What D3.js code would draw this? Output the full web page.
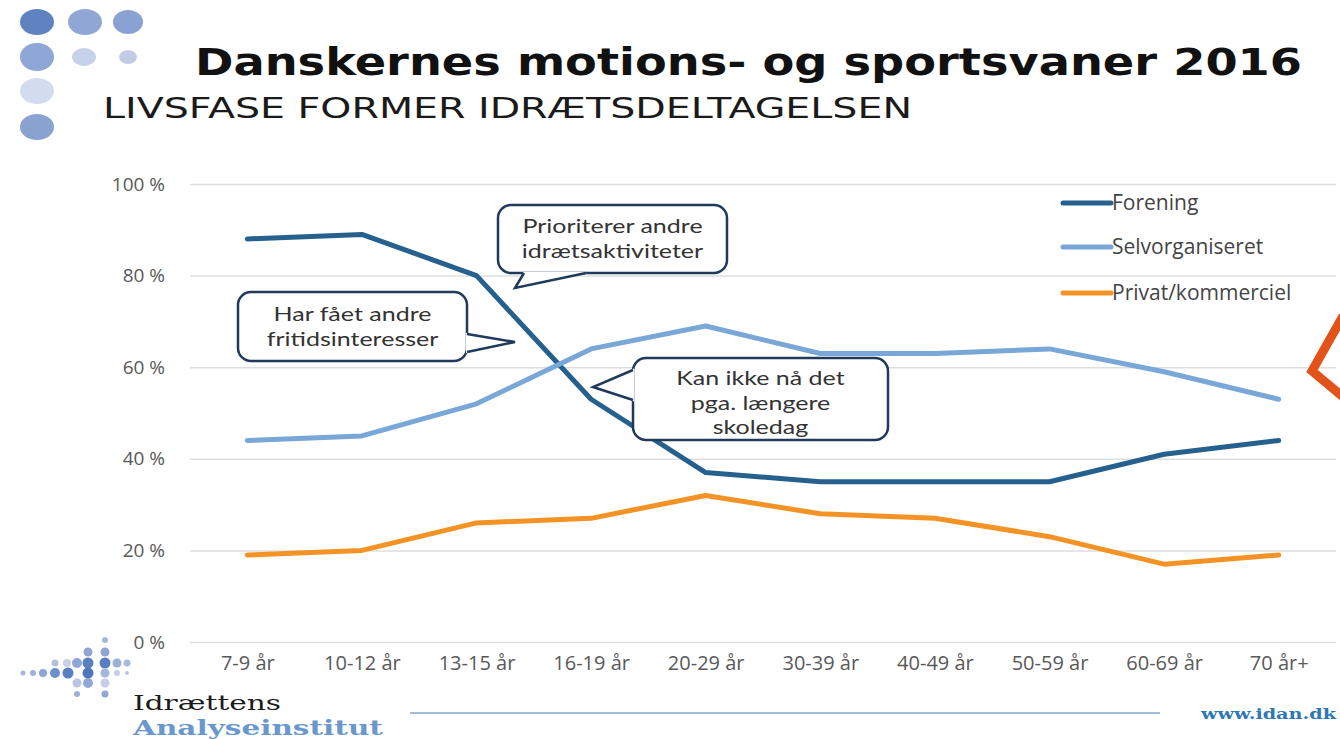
<!DOCTYPE html>
<html>
<head>
<meta charset="utf-8">
<script src="https://cdn.jsdelivr.net/npm/d3@7"></script>
<style>
  body { margin: 0; background: #fff; }
  #chart { width: 1340px; height: 739px; }
</style>
</head>
<body>
<div id="chart"></div>
<script>
//Datos
const categories = ['7-9 år', '10-12 år', '13-15 år', '16-19 år', '20-29 år', '30-39 år', '40-49 år', '50-59 år', '60-69 år', '70 år+'];
const forening = [88, 89, 80, 53, 37, 35, 35, 35, 41, 44];
const selvorganiseret = [44, 45, 52, 64, 69, 63, 63, 64, 59, 53];
const privat = [19, 20, 26, 27, 32, 28, 27, 23, 17, 19];
const seriesNames = ['Forening', 'Selvorganiseret', 'Privat/kommerciel'];
const yTicks = [0, 20, 40, 60, 80, 100];

//Colores fijos
const COLOR_FORENING = '#25608e',
COLOR_SELV = '#79a7d7',
COLOR_PRIVAT = '#f39326',
COLOR_GRID = '#dedede',
COLOR_TEXT = '#595959',
COLOR_BOX = '#1f3a5a',
FONT = 'Open Sans, Lato, sans-serif';

const series = [
    { name: seriesNames[0], values: forening, color: COLOR_FORENING },
    { name: seriesNames[1], values: selvorganiseret, color: COLOR_SELV },
    { name: seriesNames[2], values: privat, color: COLOR_PRIVAT }
];

let svg = d3.select('#chart')
    .append('svg')
    .attr('width', 1340)
    .attr('height', 739);

//Logo superior
const topDots = [
    [37, 22, 17, 13, '#5f82c0'], [85, 22, 17, 13, '#90a7d5'], [128, 22, 15, 12, '#8aa2d2'],
    [37, 57, 17, 14, '#8ea7d6'], [84, 57, 12, 9, '#c6d1ea'], [128, 57, 9, 7, '#c1cce6'],
    [37, 91, 17, 13, '#d3dbee'], [37, 127, 17, 13, '#8aa2d0']
];
svg.selectAll('.topdot')
    .data(topDots)
    .enter()
    .append('ellipse')
    .attr('cx', d => d[0]).attr('cy', d => d[1])
    .attr('rx', d => d[2]).attr('ry', d => d[3])
    .attr('fill', d => d[4]);

//Títulos
svg.append('text')
    .attr('x', 195).attr('y', 75)
    .attr('textLength', 1107).attr('lengthAdjust', 'spacingAndGlyphs')
    .style('font-family', 'DejaVu Sans').style('font-weight', 'bold')
    .style('font-size', '37px').style('fill', '#111')
    .text('Danskernes motions- og sportsvaner 2016');

svg.append('text')
    .attr('x', 103).attr('y', 118)
    .attr('textLength', 809).attr('lengthAdjust', 'spacingAndGlyphs')
    .style('font-family', 'DejaVu Sans')
    .style('font-size', '28px').style('fill', '#1a1a1a')
    .text('LIVSFASE FORMER IDRÆTSDELTAGELSEN');

//Escalas
let x = d3.scalePoint()
    .domain(categories)
    .range([190, 1336])
    .padding(0.5);

let y = d3.scaleLinear()
    .domain([0, 100])
    .range([642, 184]);

//Eje Y con líneas de rejilla
let yAxis = function(g) {
    g.call(d3.axisLeft(y).tickValues(yTicks).tickSize(0).tickPadding(25).tickFormat(d => d + ' %'));
    g.call(g => g.select('.domain').remove());
    g.call(g => g.selectAll('.tick line')
        .attr('x1', 0)
        .attr('x2', 1336 - 190)
        .attr('stroke', COLOR_GRID)
        .attr('stroke-width', 1.5));
    g.call(g => g.selectAll('text')
        .style('font-family', FONT)
        .style('font-size', '19px')
        .style('fill', COLOR_TEXT));
};

svg.append('g')
    .attr('transform', 'translate(190,0)')
    .call(yAxis);

//Eje X
let xAxis = function(g) {
    g.call(d3.axisBottom(x).tickSize(0).tickPadding(14));
    g.call(g => g.select('.domain').remove());
    g.call(g => g.selectAll('text')
        .style('font-family', FONT)
        .style('font-size', '20px')
        .style('fill', COLOR_TEXT));
};

svg.append('g')
    .attr('transform', 'translate(0,642)')
    .call(xAxis);

//Líneas
let line = d3.line()
    .x((d, i) => x(categories[i]))
    .y(d => y(d));

svg.selectAll('.serie')
    .data(series)
    .enter()
    .append('path')
    .attr('class', 'serie')
    .attr('d', d => line(d.values))
    .attr('fill', 'none')
    .attr('stroke', d => d.color)
    .attr('stroke-width', 5)
    .attr('stroke-linejoin', 'round')
    .attr('stroke-linecap', 'round');

//Leyenda
let legend = svg.selectAll('.legend')
    .data(series)
    .enter()
    .append('g')
    .attr('transform', (d, i) => 'translate(1063,' + [203, 247, 293][i] + ')');

legend.append('line')
    .attr('x1', 0).attr('x2', 48)
    .attr('stroke', d => d.color)
    .attr('stroke-width', 5)
    .attr('stroke-linecap', 'round');

legend.append('text')
    .attr('x', 49).attr('y', 7)
    .style('font-family', FONT)
    .style('font-size', '21px')
    .style('fill', '#444')
    .text(d => d.name);

//Bocadillos
const callouts = [
    { box: [498, 205, 229, 68], pointer: [[524, 273], [515, 288], [586, 273]], lines: ['Prioriterer andre', 'idrætsaktiviteter'], textY: 233 },
    { box: [238, 292, 229, 69], pointer: [[467, 334], [515, 342], [467, 352]], lines: ['Har fået andre', 'fritidsinteresser'], textY: 321 },
    { box: [633, 358, 255, 82], pointer: [[633, 370], [593, 387], [633, 400]], lines: ['Kan ikke nå det', 'pga. længere', 'skoledag'], textY: 385 }
];

callouts.forEach(function(c) {
    let g = svg.append('g');
    g.append('rect')
        .attr('x', c.box[0]).attr('y', c.box[1])
        .attr('width', c.box[2]).attr('height', c.box[3])
        .attr('rx', 13)
        .attr('fill', '#fff')
        .attr('stroke', COLOR_BOX)
        .attr('stroke-width', 2.5);
    g.append('path')
        .attr('d', d3.line()(c.pointer) + 'Z')
        .attr('fill', '#fff')
        .attr('stroke', '#fff')
        .attr('stroke-width', 2);
    g.append('path')
        .attr('d', d3.line()(c.pointer))
        .attr('fill', 'none')
        .attr('stroke', COLOR_BOX)
        .attr('stroke-width', 2.5)
        .attr('stroke-linejoin', 'miter');
    g.selectAll('text')
        .data(c.lines)
        .enter()
        .append('text')
        .attr('x', c.box[0] + c.box[2] / 2)
        .attr('y', (d, i) => c.textY + i * 24.5)
        .attr('text-anchor', 'middle')
        .style('font-family', 'Lato, sans-serif')
        .style('font-size', '20px')
        .style('fill', '#333')
        .text(d => d)
        //Texto algo más ancho, como en el original
        .each(function() {
            let w = this.getComputedTextLength();
            d3.select(this)
                .attr('textLength', w * 1.25)
                .attr('lengthAdjust', 'spacingAndGlyphs');
        });
});

//Flecha naranja
svg.append('path')
    .attr('d', 'M1343,316 L1312,371 L1343,397')
    .attr('fill', 'none')
    .attr('stroke', '#e2531c')
    .attr('stroke-width', 9)
    .attr('stroke-linejoin', 'miter');

//Logo inferior
const bottomDots = [
    [105, 640, 3, '#a8b8dc'],
    [88, 652, 4.5, '#8fa6d6'], [105, 652, 4.5, '#8fa6d6'],
    [55, 663, 3.5, '#b4c2e2'], [67, 663, 4, '#c7d1ea'], [77, 663, 5, '#8fa6d6'], [88, 663, 5.5, '#5a7fc0'], [105, 663, 5.5, '#5a7fc0'], [117, 663, 4.5, '#9cb0da'], [127, 663, 3.5, '#a9badf'],
    [23, 673, 2.5, '#a6b6dc'], [33, 673, 3, '#9fb1da'], [43, 673, 4, '#8fa6d6'], [55, 673, 5, '#6f8fca'], [68, 673, 5.5, '#5a7fc0'], [88, 673, 5.5, '#4f76ba'], [105, 673, 4.5, '#a5b6dd'], [117, 673, 3, '#c4cee8'], [127, 673, 2, '#b7c4e4'],
    [77, 683, 4.5, '#bac6e4'], [88, 683, 5, '#8fa6d6'], [105, 683, 4.5, '#c4cee8'],
    [77, 694, 3, '#9cb0da'], [105, 694, 3.5, '#8fa6d6']
];
svg.selectAll('.botdot')
    .data(bottomDots)
    .enter()
    .append('circle')
    .attr('cx', d => d[0]).attr('cy', d => d[1])
    .attr('r', d => d[2])
    .attr('fill', d => d[3]);

svg.append('text')
    .attr('x', 133).attr('y', 710)
    .attr('textLength', 148).attr('lengthAdjust', 'spacingAndGlyphs')
    .style('font-family', 'DejaVu Serif')
    .style('font-size', '20px')
    .style('fill', '#1a1a1a')
    .text('Idrættens');

svg.append('text')
    .attr('x', 133).attr('y', 735)
    .attr('textLength', 250).attr('lengthAdjust', 'spacingAndGlyphs')
    .style('font-family', 'DejaVu Serif')
    .style('font-weight', 'bold')
    .style('font-size', '20px')
    .style('fill', '#6b98cc')
    .text('Analyseinstitut');

svg.append('line')
    .attr('x1', 410).attr('x2', 1160)
    .attr('y1', 713).attr('y2', 713)
    .attr('stroke', '#7ea9cf')
    .attr('stroke-width', 1.5);

svg.append('text')
    .attr('x', 1336).attr('y', 719)
    .attr('text-anchor', 'end')
    .attr('textLength', 135).attr('lengthAdjust', 'spacingAndGlyphs')
    .style('font-family', 'DejaVu Serif')
    .style('font-weight', 'bold')
    .style('font-size', '15px')
    .style('fill', '#2f78b5')
    .text('www.idan.dk');
</script>
</body>
</html>
